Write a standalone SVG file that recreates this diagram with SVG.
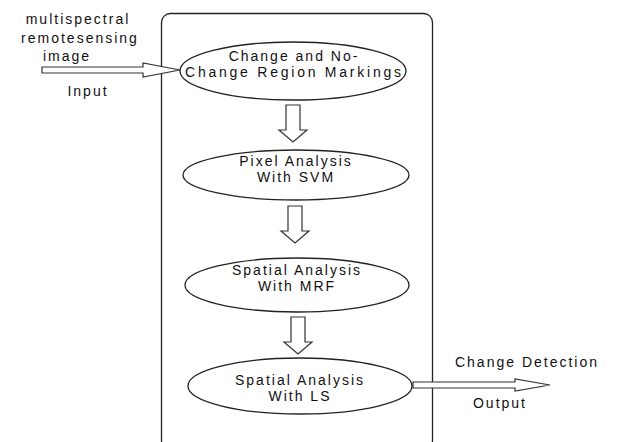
<svg xmlns="http://www.w3.org/2000/svg" width="617" height="442" viewBox="0 0 617 442">
<style>
text{font-family:"Liberation Sans",Arial,sans-serif;font-size:14px;fill:#111;letter-spacing:2px}
.c{text-anchor:middle}
.sh{fill:#fff;stroke:#222;stroke-width:1.3}
.ar{fill:#fff;stroke:#333;stroke-width:1.2}
</style>
<rect width="617" height="442" fill="#fff"/>
<g id="container"><rect class="sh" x="161.5" y="13.5" width="271" height="436" rx="9"/></g>
<g id="connectors">
<path class="ar" d="M42,67 H143 V63 L180,70 L143,77 V73 H42 Z"/>
<path class="ar" d="M286,105 H300 V130 H307 L293,142 L279,130 H286 Z"/>
<path class="ar" d="M288,206 H302 V231 H309 L295,243 L281,231 H288 Z"/>
<path class="ar" d="M291,317 H305 V342 H312 L298,354 L284,342 H291 Z"/>
<path class="ar" d="M413,382 H515 V379 L550,385 L515,391 V388 H413 Z"/>
</g>
<g id="input-label">
<text x="78" y="24" class="c">multispectral</text>
<text x="80" y="43" class="c">remotesensing</text>
<text x="67" y="61" class="c">image</text>
<text x="88" y="96" class="c">Input</text>
</g>
<g id="n1"><ellipse class="sh" cx="293" cy="71" rx="113" ry="29"/>
<text x="294" y="60.5" class="c">Change and No-</text>
<text x="294" y="76.5" class="c" textLength="218" lengthAdjust="spacing">Change Region Markings</text></g>
<g id="n2"><ellipse class="sh" cx="296" cy="175" rx="113" ry="25"/>
<text x="296" y="166" class="c">Pixel Analysis</text>
<text x="296" y="182" class="c">With SVM</text></g>
<g id="n3"><ellipse class="sh" cx="297" cy="285" rx="112" ry="27"/>
<text x="297" y="275" class="c">Spatial Analysis</text>
<text x="297" y="291" class="c">With MRF</text></g>
<g id="n4"><ellipse class="sh" cx="300" cy="386" rx="112" ry="28"/>
<text x="300" y="385" class="c">Spatial Analysis</text>
<text x="300" y="401" class="c">With LS</text></g>
<g id="output-label">
<text x="527" y="367" class="c">Change Detection</text>
<text x="500" y="408" class="c">Output</text>
</g>
</svg>
